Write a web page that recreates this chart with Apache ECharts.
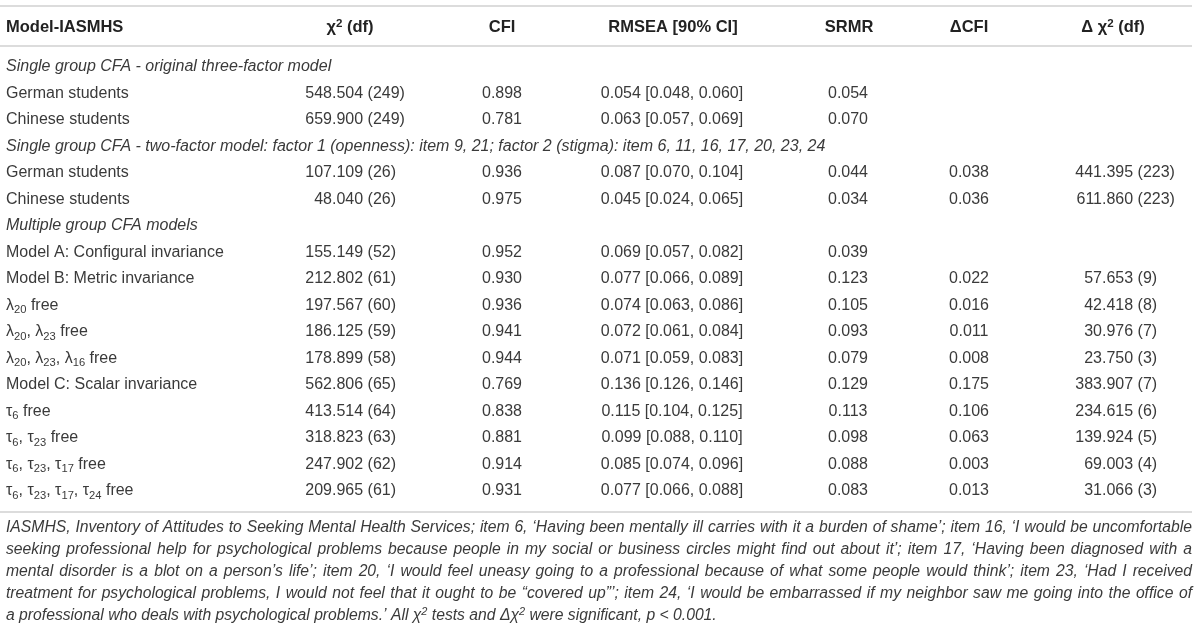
<!DOCTYPE html>
<html>
<head>
<meta charset="utf-8">
<script src="https://cdn.jsdelivr.net/npm/echarts@6/dist/echarts.min.js"></script>
<style>
  html, body { margin: 0; padding: 0; background: #fff; }
  #chart { width: 1200px; height: 628px; }
</style>
</head>
<body>
<div id="chart"></div>
<script>
// markup in labels: leading * = italic sub-heading, _{..} = subscript, ^{..} = superscript
var rowLabels = [
  '*Single group CFA - original three-factor model',
  'German students',
  'Chinese students',
  '*Single group CFA - two-factor model: factor 1 (openness): item 9, 21; factor 2 (stigma): item 6, 11, 16, 17, 20, 23, 24',
  'German students',
  'Chinese students',
  '*Multiple group CFA models',
  'Model A: Configural invariance',
  'Model B: Metric invariance',
  'λ_{20} free',
  'λ_{20}, λ_{23} free',
  'λ_{20}, λ_{23}, λ_{16} free',
  'Model C: Scalar invariance',
  'τ_{6} free',
  'τ_{6}, τ_{23} free',
  'τ_{6}, τ_{23}, τ_{17} free',
  'τ_{6}, τ_{23}, τ_{17}, τ_{24} free'
];
var headers = ['Model-IASMHS', 'χ^{2} (df)', 'CFI', 'RMSEA [90% CI]', 'SRMR', 'ΔCFI', 'Δ χ^{2} (df)'];

var chi2     = [null, 548.504, 659.900, null, 107.109, 48.040, null, 155.149, 212.802, 197.567, 186.125, 178.899, 562.806, 413.514, 318.823, 247.902, 209.965];
var chi2Df   = [null, 249, 249, null, 26, 26, null, 52, 61, 60, 59, 58, 65, 64, 63, 62, 61];
var cfi      = [null, 0.898, 0.781, null, 0.936, 0.975, null, 0.952, 0.930, 0.936, 0.941, 0.944, 0.769, 0.838, 0.881, 0.914, 0.931];
var rmsea    = [null, 0.054, 0.063, null, 0.087, 0.045, null, 0.069, 0.077, 0.074, 0.072, 0.071, 0.136, 0.115, 0.099, 0.085, 0.077];
var rmseaLo  = [null, 0.048, 0.057, null, 0.070, 0.024, null, 0.057, 0.066, 0.063, 0.061, 0.059, 0.126, 0.104, 0.088, 0.074, 0.066];
var rmseaHi  = [null, 0.060, 0.069, null, 0.104, 0.065, null, 0.082, 0.089, 0.086, 0.084, 0.083, 0.146, 0.125, 0.110, 0.096, 0.088];
var srmr     = [null, 0.054, 0.070, null, 0.044, 0.034, null, 0.039, 0.123, 0.105, 0.093, 0.079, 0.129, 0.113, 0.098, 0.088, 0.083];
var dCfi     = [null, null, null, null, 0.038, 0.036, null, null, 0.022, 0.016, 0.011, 0.008, 0.175, 0.106, 0.063, 0.003, 0.013];
var dChi2    = [null, null, null, null, 441.395, 611.860, null, null, 57.653, 42.418, 30.976, 23.750, 383.907, 234.615, 139.924, 69.003, 31.066];
var dChi2Df  = [null, null, null, null, 223, 223, null, null, 9, 8, 7, 3, 7, 6, 5, 4, 3];

var footLines = [
  'IASMHS, Inventory of Attitudes to Seeking Mental Health Services; item 6, ‘Having been mentally ill carries with it a burden of shame’; item 16, ‘I would be uncomfortable',
  'seeking professional help for psychological problems because people in my social or business circles might find out about it’; item 17, ‘Having been diagnosed with a',
  'mental disorder is a blot on a person’s life’; item 20, ‘I would feel uneasy going to a professional because of what some people would think’; item 23, ‘Had I received',
  'treatment for psychological problems, I would not feel that it ought to be “covered up”’; item 24, ‘I would be embarrassed if my neighbor saw me going into the office of',
  'a professional who deals with psychological problems.’ All χ^{2} tests and Δχ^{2} were significant, p < 0.001.'
];

// layout
var FONT = '"Liberation Sans", Arial, sans-serif';
var TXT = '#3a3a3a';
var COL_X = [6, 332, 502, 672, 848, 969, 1102];
var DECIMAL_COL = { 1: true, 6: true };
var RULE_Y = [6, 46, 512];
var LEFT = 6, RIGHT = 1192;
var FOOT_Y = 528, FOOT_STEP = 22;

var measureCtx = document.createElement('canvas').getContext('2d');
function textWidth(str, font) {
  measureCtx.font = font;
  return measureCtx.measureText(str).width;
}

// footnote size: the widest justified line should nearly fill the width
var FOOT_SIZE = (function () {
  var widest = 0;
  footLines.slice(0, -1).forEach(function (l) { widest = Math.max(widest, textWidth(l, 'italic 15px ' + FONT)); });
  return 15 * (RIGHT - LEFT) * 0.99 / widest;
})();

var HEAD_X = [LEFT + textWidth(headers[0], 'bold 16.5px ' + FONT) / 2, 350, 502, 673, 849, 969, 1113];

function richStyles(size, weight, style) {
  var base = { fontFamily: FONT, fontSize: size, fontWeight: weight, fontStyle: style, color: weight === 'bold' ? '#222' : TXT, lineHeight: 20 };
  return {
    main: base,
    sub: Object.assign({}, base, { fontSize: size * 0.7, lineHeight: 10, verticalAlign: 'bottom' }),
    sup: Object.assign({}, base, { fontSize: size * 0.7, lineHeight: 13, verticalAlign: 'top' })
  };
}
function buildRich() {
  var out = {};
  var sets = {
    n: richStyles(16, 'normal', 'normal'),
    i: richStyles(16, 'normal', 'italic'),
    b: richStyles(16.5, 'bold', 'normal'),
    f: richStyles(FOOT_SIZE, 'normal', 'italic')
  };
  Object.keys(sets).forEach(function (k) {
    out[k] = sets[k].main;
    out[k + 'Sub'] = sets[k].sub;
    out[k + 'Sup'] = sets[k].sup;
  });
  return out;
}
var RICH = buildRich();

function toRich(str, base) {
  if (str.charAt(0) === '*') { str = str.slice(1); base = 'i'; }
  return str.split(/(_\{[^}]*\}|\^\{[^}]*\})/).filter(Boolean).map(function (p) {
    if (p.charAt(0) === '_' && p.charAt(1) === '{') return '{' + base + 'Sub|' + p.slice(2, -1) + '}';
    if (p.charAt(0) === '^' && p.charAt(1) === '{') return '{' + base + 'Sup|' + p.slice(2, -1) + '}';
    return '{' + base + '|' + p + '}';
  }).join('');
}

function cellText(c, r) {
  switch (c) {
    case 1: return chi2[r] == null ? null : chi2[r].toFixed(3) + ' (' + chi2Df[r] + ')';
    case 2: return cfi[r] == null ? null : cfi[r].toFixed(3);
    case 3: return rmsea[r] == null ? null : rmsea[r].toFixed(3) + ' [' + rmseaLo[r].toFixed(3) + ', ' + rmseaHi[r].toFixed(3) + ']';
    case 4: return srmr[r] == null ? null : srmr[r].toFixed(3);
    case 5: return dCfi[r] == null ? null : dCfi[r].toFixed(3);
    case 6: return dChi2[r] == null ? null : dChi2[r].toFixed(3) + ' (' + dChi2Df[r] + ')';
  }
  return null;
}

var cells = [];
rowLabels.forEach(function (lab, r) {
  for (var c = 1; c <= 6; c++) {
    if (cellText(c, r) != null) cells.push([c, r]);
  }
});

function cellStyle(text, x, y, align) {
  return { text: text, x: x, y: y, align: align, verticalAlign: 'middle', fill: TXT, fontFamily: FONT, fontSize: 16 };
}

function renderCell(params, api) {
  var c = api.value(0), r = api.value(1);
  var p = api.coord([COL_X[c], r]);
  var t = cellText(c, r);
  if (DECIMAL_COL[c]) {
    var k = t.indexOf('.');
    return {
      type: 'group',
      children: [
        { type: 'text', style: cellStyle(t.slice(0, k), p[0], p[1], 'right') },
        { type: 'text', style: cellStyle(t.slice(k), p[0], p[1], 'left') }
      ]
    };
  }
  return { type: 'text', style: cellStyle(t, p[0], p[1], 'center') };
}

var graphics = RULE_Y.map(function (y) {
  return { type: 'line', shape: { x1: 0, y1: y, x2: RIGHT, y2: y }, style: { stroke: '#dcdcdc', lineWidth: 2 }, silent: true };
});

// footnote: lines 1-4 justified word by word, last line left as is
var footFont = 'italic ' + FOOT_SIZE + 'px ' + FONT;
footLines.forEach(function (line, li) {
  var y = FOOT_Y + li * FOOT_STEP;
  if (li === footLines.length - 1) {
    graphics.push({ type: 'text', x: LEFT, y: y, style: { text: toRich(line, 'f'), rich: RICH, fill: TXT, verticalAlign: 'middle' }, silent: true });
    return;
  }
  var words = line.split(' ');
  var total = 0;
  var widths = words.map(function (w) { var v = textWidth(w, footFont); total += v; return v; });
  var gap = (RIGHT - LEFT - total) / (words.length - 1);
  var x = LEFT;
  words.forEach(function (w, i) {
    graphics.push({ type: 'text', x: x, y: y, style: { text: w, fontFamily: FONT, fontSize: FOOT_SIZE, fontStyle: 'italic', fill: TXT, verticalAlign: 'middle' }, silent: true });
    x += widths[i] + gap;
  });
});

var chart = echarts.init(document.getElementById('chart'));
chart.setOption({
  animation: false,
  backgroundColor: '#fff',
  grid: { left: 0, right: 0, top: 53.75, height: 450.5 },
  xAxis: {
    type: 'value',
    min: 0,
    max: 1200,
    position: 'top',
    splitLine: { show: false },
    axisLine: { show: false },
    axisTick: { show: false },
    axisLabel: {
      customValues: HEAD_X,
      margin: 16,
      rich: RICH,
      formatter: function (v) {
        var best = 0;
        HEAD_X.forEach(function (h, i) { if (Math.abs(h - v) < Math.abs(HEAD_X[best] - v)) best = i; });
        return toRich(headers[best], 'b');
      }
    }
  },
  yAxis: {
    type: 'category',
    inverse: true,
    data: rowLabels,
    axisLine: { show: false },
    axisTick: { show: false },
    splitLine: { show: false },
    axisLabel: {
      inside: true,
      interval: 0,
      margin: LEFT,
      align: 'left',
      rich: RICH,
      formatter: function (v) { return toRich(v, 'n'); }
    }
  },
  series: [{
    type: 'custom',
    data: cells,
    renderItem: renderCell,
    silent: true
  }],
  graphic: graphics
});
</script>
</body>
</html>
